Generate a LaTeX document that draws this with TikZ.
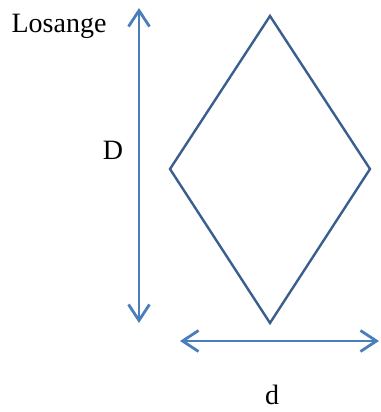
\documentclass[tikz,border=0pt]{standalone}
\usepackage{fontspec}
\setmainfont{Liberation Serif}
\usetikzlibrary{arrows.meta}
\definecolor{dia}{RGB}{59,94,143}
\definecolor{arr}{RGB}{74,126,187}
\tikzset{
  lbl/.style={font=\fontsize{28}{30}\selectfont, inner sep=0pt},
  dim/.style={draw=arr, line width=2.8pt, {Straight Barb[length=16pt,width=21pt,line width=2.8pt]}-{Straight Barb[length=16pt,width=21pt,line width=2.8pt]}},
  losline/.style={draw=dia, line width=2.4pt, line join=miter}
}
\begin{document}
\begin{tikzpicture}[x=1pt,y=-1pt]
\useasboundingbox (0,0) rectangle (380,412);
\coordinate (T) at (270,16);
\coordinate (L) at (170,169);
\coordinate (R) at (370,169);
\coordinate (B) at (270,323);
\draw[losline] (T) -- (R) -- (B) -- (L) -- cycle;
\coordinate (vt) at (139,8);
\coordinate (vb) at (139,323);
\draw[dim] (vt) -- (vb);
\coordinate (hl) at (180,341);
\coordinate (hr) at (379,341);
\draw[dim] (hl) -- (hr);
\node[lbl, anchor=base] (los) at (59,33) {Losange};
\node[lbl, anchor=base] (D) at (113,159) {D};
\node[lbl, anchor=base] (d) at (272,404) {d};
\end{tikzpicture}
\end{document}
